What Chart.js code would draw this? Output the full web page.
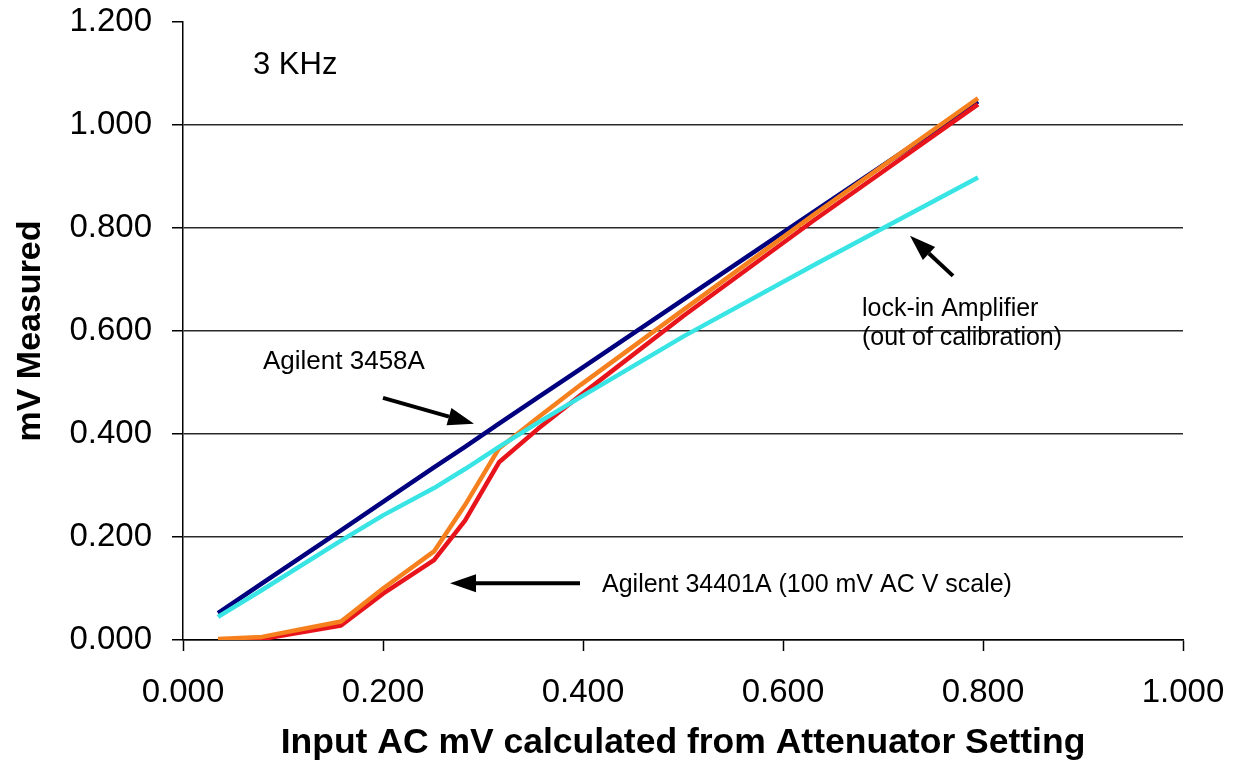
<!DOCTYPE html>
<html>
<head>
<meta charset="utf-8">
<script src="https://cdn.jsdelivr.net/npm/chart.js@4/dist/chart.umd.min.js"></script>
<style>
html,body{margin:0;padding:0;background:#fff;}
#wrap{width:1243px;height:778px;position:relative;}
</style>
</head>
<body>
<div id="wrap"><canvas id="c" width="1243" height="778"></canvas></div>
<script>
// ---- data ----
const inputMv = [0.035, 0.079, 0.158, 0.200, 0.251, 0.282, 0.316, 0.355, 0.398, 0.501, 0.631, 0.795];
const agilent3458A = [0.052, 0.110, 0.213, 0.268, 0.335, 0.375, 0.420, 0.471, 0.527, 0.662, 0.832, 1.046];
const lockIn       = [0.045, 0.097, 0.193, 0.242, 0.295, 0.332, 0.375, 0.422, 0.472, 0.590, 0.728, 0.898];
const agilent34401A_run1 = [0.002, 0.006, 0.036, 0.100, 0.172, 0.262, 0.372, 0.432, 0.496, 0.642, 0.826, 1.052];
const agilent34401A_run2 = [0.000, 0.002, 0.028, 0.090, 0.155, 0.232, 0.345, 0.410, 0.476, 0.630, 0.815, 1.040];
const xTickValues = [0, 0.2, 0.4, 0.6, 0.8, 1.0];
const yTickValues = [0, 0.2, 0.4, 0.6, 0.8, 1.0, 1.2];
const xTitle = 'Input AC mV calculated from Attenuator Setting';
const yTitle = 'mV Measured';

const FONT = '"Liberation Sans", Arial, sans-serif';
const pts = (ys) => inputMv.map((x, i) => ({x: x, y: ys[i]}));

// annotation texts/arrows anchored in data coordinates
const notes = [
  {text: '3 KHz', x: 0.070, y: 1.100, size: 31},
  {text: 'Agilent 3458A', x: 0.080, y: 0.527, size: 26},
  {text: 'lock-in Amplifier', x: 0.679, y: 0.630, size: 25},
  {text: '(out of calibration)', x: 0.679, y: 0.572, size: 25},
  {text: 'Agilent 34401A (100 mV AC V scale)', x: 0.419, y: 0.093, size: 25}
];
const arrows = [
  {from: [0.200, 0.470], to: [0.291, 0.420]},
  {from: [0.770, 0.707], to: [0.727, 0.785]},
  {from: [0.397, 0.110], to: [0.267, 0.110]}
];

const annotPlugin = {
  id: 'annot',
  afterDraw(chart) {
    const {ctx, scales: {x, y}} = chart;
    ctx.save();
    ctx.fillStyle = '#000';
    ctx.textAlign = 'left';
    ctx.textBaseline = 'alphabetic';
    notes.forEach(n => {
      ctx.font = n.size + 'px ' + FONT;
      ctx.fillText(n.text, x.getPixelForValue(n.x), y.getPixelForValue(n.y));
    });
    ctx.strokeStyle = '#000';
    ctx.lineWidth = 4;
    arrows.forEach(a => {
      const x1 = x.getPixelForValue(a.from[0]), y1 = y.getPixelForValue(a.from[1]);
      const x2 = x.getPixelForValue(a.to[0]), y2 = y.getPixelForValue(a.to[1]);
      const ang = Math.atan2(y2 - y1, x2 - x1);
      const hl = 26, hw = 9;
      const bx = x2 - hl * Math.cos(ang), by = y2 - hl * Math.sin(ang);
      ctx.beginPath();
      ctx.moveTo(x1, y1);
      ctx.lineTo(bx, by);
      ctx.stroke();
      ctx.beginPath();
      ctx.moveTo(x2, y2);
      ctx.lineTo(bx + hw * Math.sin(ang), by - hw * Math.cos(ang));
      ctx.lineTo(bx - hw * Math.sin(ang), by + hw * Math.cos(ang));
      ctx.closePath();
      ctx.fill();
    });
    ctx.restore();
  }
};

const isTop = (v) => Math.abs(v - 1.2) < 1e-9;
const zeroPad = (s) => { s.paddingTop = 0; s.paddingBottom = 0; s.paddingLeft = 0; s.paddingRight = 0; };

new Chart(document.getElementById('c'), {
  type: 'line',
  data: {
    datasets: [
      {label: 'lock-in Amplifier', data: pts(lockIn), borderColor: '#38E4E4', borderWidth: 4.5},
      {label: 'Agilent 34401A (1)', data: pts(agilent34401A_run1), borderColor: '#F7801E', borderWidth: 4.5},
      {label: 'Agilent 34401A (2)', data: pts(agilent34401A_run2), borderColor: '#E8141C', borderWidth: 4.5},
      {label: 'Agilent 3458A', data: pts(agilent3458A), borderColor: '#00007F', borderWidth: 4.5}
    ]
  },
  options: {
    responsive: false,
    animation: false,
    elements: {point: {radius: 0}, line: {tension: 0, fill: false, borderCapStyle: 'butt', borderJoinStyle: 'round'}},
    layout: {autoPadding: false, padding: {top: 22, right: 60, left: 0, bottom: 0}},
    plugins: {legend: {display: false}, tooltip: {enabled: false}},
    scales: {
      x: {
        type: 'linear', min: 0, max: 1,
        afterBuildTicks: (s) => { s.ticks = xTickValues.map(v => ({value: v})); },
        afterFit: (s) => { s.height = 138; zeroPad(s); },
        border: {color: '#000', width: 1.5},
        grid: {drawOnChartArea: false, drawTicks: true, tickLength: 11, tickColor: '#000', tickWidth: 1.5},
        ticks: {color: '#000', padding: 22, maxRotation: 0, font: {family: FONT, size: 33},
                callback: (v) => Number(v).toFixed(3)},
        title: {display: true, text: xTitle, color: '#000', font: {family: FONT, size: 35.5, weight: 'bold'},
                padding: {top: 0, bottom: 13}}
      },
      y: {
        type: 'linear', min: 0, max: 1.2,
        afterBuildTicks: (s) => { s.ticks = yTickValues.map(v => ({value: v})); },
        afterFit: (s) => { s.width = 183; zeroPad(s); },
        border: {color: '#000', width: 1.5},
        grid: {
          drawTicks: true, tickLength: 11, tickWidth: 1.5, tickColor: '#000', lineWidth: 1.5,
          color: (c) => (c.tick && isTop(c.tick.value)) ? 'rgba(0,0,0,0)' : '#2a2a2a'
        },
        ticks: {color: '#000', padding: 20, font: {family: FONT, size: 33},
                callback: (v) => Number(v).toFixed(3)},
        title: {display: true, text: yTitle, color: '#000', font: {family: FONT, size: 34, weight: 'bold'},
                padding: {top: 10, bottom: 0}}
      }
    }
  },
  plugins: [annotPlugin]
});
</script>
</body>
</html>
